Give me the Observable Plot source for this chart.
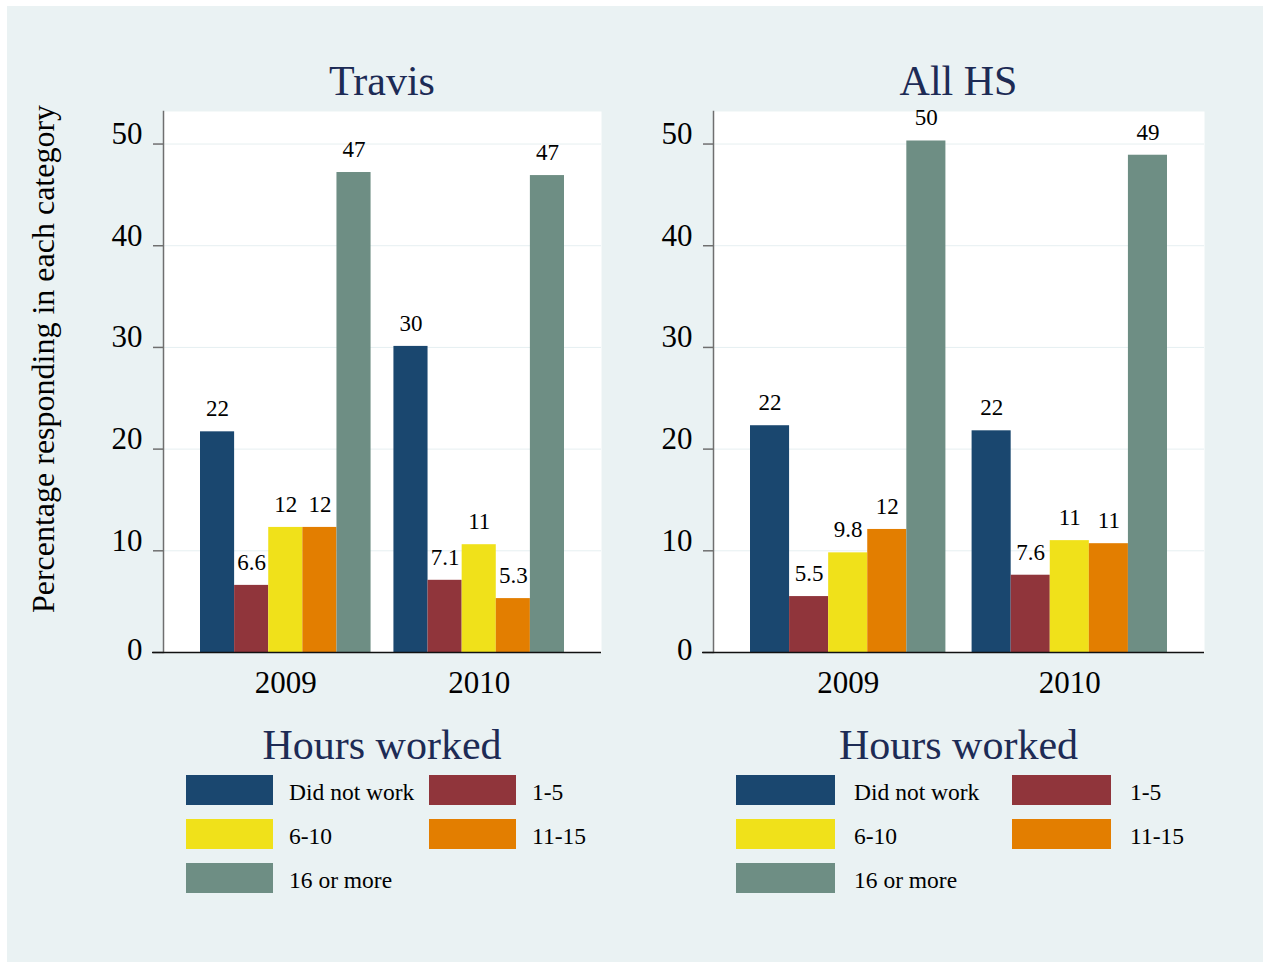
<!DOCTYPE html>
<html>
<head>
<meta charset="utf-8">
<script src="https://cdn.jsdelivr.net/npm/d3@7"></script>
<script src="https://cdn.jsdelivr.net/npm/@observablehq/plot@0.6"></script>
<style>
  body { margin: 0; background: #ffffff; font-family: "Liberation Serif", "Times New Roman", serif; }
  #page { position: relative; width: 1270px; height: 962px; overflow: hidden; }
  #bg { position: absolute; left: 7px; top: 6px; width: 1256px; height: 956px; background: #eaf2f3; }
  .abs { position: absolute; }
  .title { font-size: 42px; line-height: 32px; height: 32px; color: #1d2b55; text-align: center; white-space: nowrap; width: 400px; }
  .key { height: 30px; }
  .ltext { font-size: 23.5px; line-height: 30px; height: 30px; color: #000; white-space: nowrap; }
  .ylab { font-size: 32px; line-height: 32px; height: 32px; width: 600px; text-align: center; color: #000; white-space: nowrap; transform: rotate(-90deg); transform-origin: 50% 50%; }
</style>
</head>
<body>
<div id="page"><div id="bg"></div></div>
<script>
// ---- data ----
const years = ["2009", "2010"];
const categories = ["Did not work", "1-5", "6-10", "11-15", "16 or more"];
const colors = ["#1a476f", "#90353b", "#f0e11a", "#e37e00", "#6e8e84"];
const travis2009 = [21.7, 6.6, 12.3, 12.3, 47.2];
const travis2010 = [30.1, 7.1, 10.6, 5.3, 46.9];
const allhs2009 = [22.3, 5.5, 9.8, 12.1, 50.3];
const allhs2010 = [21.8, 7.6, 11.0, 10.7, 48.9];
const yTicks = [0, 10, 20, 30, 40, 50];
const panelTitles = ["Travis", "All HS"];
const legendTitle = "Hours worked";
const yLabel = "Percentage responding in each category";

// ---- layout ----
const FONT = "Liberation Serif";
const n = categories.length;
const gap = 0.67;                 // gap between year groups, in bar widths
const step = n + gap;
const fmt = d3.format(".2g");

const panels = [
  { title: panelTitles[0], values: [travis2009, travis2010], left: 0, width: 635, ml: 163, mr: 34,
    legendCols: [186, 429], keyW: 87, textGap: 16 },
  { title: panelTitles[1], values: [allhs2009, allhs2010], left: 635, width: 635, ml: 78, mr: 66,
    legendCols: [736, 1012], keyW: 99, textGap: 19 }
];

const page = document.getElementById("page");
function addDiv(cls, style, text) {
  const d = document.createElement("div");
  d.className = "abs " + cls;
  Object.assign(d.style, style);
  if (text != null) d.textContent = text;
  page.appendChild(d);
  return d;
}

const plotTop = 111, plotBottom = 652, svgH = 710;

panels.forEach(p => {
  const rows = [];
  years.forEach((yr, yi) => categories.forEach((cat, ci) => {
    rows.push({ year: yr, yi, cat, ci, value: p.values[yi][ci] });
  }));
  const tickPos = years.map((_, yi) => yi * step + n / 2);

  const chart = Plot.plot({
    width: p.width,
    height: svgH,
    marginLeft: p.ml,
    marginRight: p.mr,
    marginTop: plotTop,
    marginBottom: svgH - plotBottom,
    style: { background: "transparent", fontFamily: FONT, color: "#000", overflow: "visible" },
    x: { type: "linear", domain: [0, 2 * n + gap], insetLeft: 37, insetRight: 37 },
    y: { domain: [0, 53.2] },
    color: { domain: categories, range: colors },
    marks: [
      Plot.frame({ fill: "white", stroke: "none" }),
      Plot.gridY(yTicks.filter(d => d > 0), { stroke: "#e6eff1", strokeOpacity: 1, strokeWidth: 1 }),
      Plot.rectY(rows, { x1: d => d.yi * step + d.ci, x2: d => d.yi * step + d.ci + 1, y: "value", fill: "cat" }),
      Plot.text(rows, { x: d => d.yi * step + d.ci + 0.5, y: "value", text: d => fmt(d.value), dy: -23,
        fontSize: 23, fontFamily: FONT, fill: "#000" }),
      Plot.frame({ anchor: "left", stroke: "#6f6f6f", strokeWidth: 1.5 }),
      Plot.axisY(yTicks, { fill: "none", stroke: "#6f6f6f", strokeWidth: 1.5, tickSize: 10, label: null }),
      Plot.axisY(yTicks.filter(d => d > 0), { stroke: "none", fill: "#000", fontSize: 31, fontFamily: FONT,
        tickSize: 10, tickPadding: 11, dy: -10, label: null }),
      Plot.axisY([0], { stroke: "none", fill: "#000", fontSize: 31, fontFamily: FONT,
        tickSize: 10, tickPadding: 11, dy: -2, label: null }),
      Plot.ruleY([0], { stroke: "#111", strokeWidth: 1.5, insetLeft: -11 }),
      Plot.axisX(tickPos, { tickSize: 0, tickPadding: 18, fontSize: 31, fontFamily: FONT, fill: "#000", label: null,
        tickFormat: d => years[Math.round((d - n / 2) / step)] })
    ]
  });
  chart.style.position = "absolute";
  chart.style.left = p.left + "px";
  chart.style.top = "0px";
  page.appendChild(chart);

  const cx = p.left + p.ml + (p.width - p.ml - p.mr) / 2;
  addDiv("title", { left: (cx - 200) + "px", top: "65px" }, p.title);
  addDiv("title", { left: (cx - 200) + "px", top: "729px" }, legendTitle);

  const rowTops = [775, 819, 863];
  categories.forEach((cat, i) => {
    const r = Math.floor(i / 2), c = i % 2;
    const x = p.legendCols[c];
    addDiv("key", { left: x + "px", top: rowTops[r] + "px", width: p.keyW + "px", background: colors[i] });
    addDiv("ltext", { left: (x + p.keyW + p.textGap) + "px", top: (rowTops[r] + 2) + "px" }, cat);
  });
});

addDiv("ylab", { left: (43 - 300) + "px", top: (358.5 - 16) + "px" }, yLabel);
</script>
</body>
</html>
